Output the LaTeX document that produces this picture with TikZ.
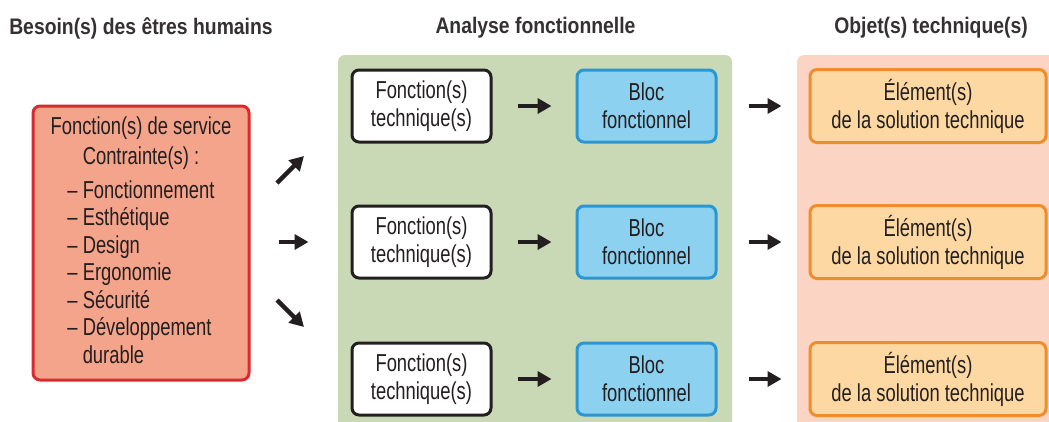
\documentclass[tikz,border=0pt]{standalone}
\usepackage{fontspec}
\setmainfont[FakeStretch=0.75]{Liberation Sans}
\newfontfamily\titlefont[FakeStretch=0.86]{Liberation Sans}
\usetikzlibrary{arrows.meta}
\definecolor{txt}{HTML}{231F20}
\definecolor{greenbg}{HTML}{C9D8B5}
\definecolor{peachbg}{HTML}{FBD4C4}
\definecolor{redfill}{HTML}{F5A48C}
\definecolor{redline}{HTML}{D92A30}
\definecolor{bluefill}{HTML}{8DD1F1}
\definecolor{blueline}{HTML}{2A96D2}
\definecolor{orfill}{HTML}{FDD8A2}
\definecolor{orline}{HTML}{F08C2A}
\tikzset{
  box/.style={line width=3pt, rounded corners=7pt, align=center, text=txt, inner sep=0pt},
  whitebox/.style={box, draw=txt, fill=white, minimum width=139pt, minimum height=72pt},
  bluebox/.style={box, draw=blueline, fill=bluefill, minimum width=139pt, minimum height=72pt},
  orbox/.style={box, draw=orline, fill=orfill, minimum width=236pt, minimum height=73pt},
  redbox/.style={box, draw=redline, fill=redfill, minimum width=216pt, minimum height=274pt},
  titlenode/.style={font=\titlefont\fontsize{22.5}{26}\selectfont\bfseries, text=txt!92!white, inner sep=0pt},
  arr/.style={draw=txt, line width=4.5pt, -{Triangle[length=14pt,width=15pt]}}
}
\begin{document}
\begin{tikzpicture}[x=1pt,y=-1pt, font=\fontsize{24.5}{28}\selectfont]
\useasboundingbox (0,0) rectangle (1049,421);
\clip (0,0) rectangle (1049,421);
\fill[white] (0,0) rectangle (1049,421);
% panels
\fill[greenbg, rounded corners=7pt] (338,55) rectangle (732,450);
\fill[peachbg, rounded corners=7pt] (797,55) rectangle (1070,450);
% titles
\node[titlenode] (t1) at (141,28) {Besoin(s) des êtres humains};
\node[titlenode] (t2) at (535.5,28) {Analyse fonctionnelle};
\node[titlenode] (t3) at (931,28) {Objet(s) technique(s)};
% red box
\node[redbox] (need) at (141,243) {\begin{tabular}{@{}c@{}}Fonction(s) de service\\[2pt]
Contrainte(s) :\\[6pt]
\begin{tabular}[t]{@{}l@{}}– Fonctionnement\\[-0.5pt] – Esthétique\\[-0.5pt] – Design\\[-0.5pt] – Ergonomie\\[-0.5pt] – Sécurité\\[-0.5pt] – Développement\\[-0.5pt] \phantom{–\ }durable\end{tabular}\end{tabular}};
% rows
\foreach \i/\y in {1/106,2/242,3/379}{
  \node[whitebox] (w\i) at (421.5,\y) {Fonction(s)\\technique(s)};
  \node[bluebox] (b\i) at (646.5,\y) {Bloc\\fonctionnel};
  \node[orbox] (o\i) at (928,\y) {Élément(s)\\de la solution technique};
  \draw[arr, shorten <=25pt, shorten >=24pt] (w\i) -- (b\i);
  \draw[arr, shorten <=31pt, shorten >=27pt] (b\i) -- (o\i);
}
% left arrows
\coordinate (d1s) at (277,183);
\coordinate (d1e) at (304,156);
\coordinate (d3s) at (277,300);
\coordinate (d3e) at (304,327);
\draw[arr] (d1s) -- (d1e);
\draw[arr, shorten <=28pt, shorten >=42pt] (need.east |- w2) -- (w2);
\draw[arr] (d3s) -- (d3e);
\end{tikzpicture}
\end{document}
